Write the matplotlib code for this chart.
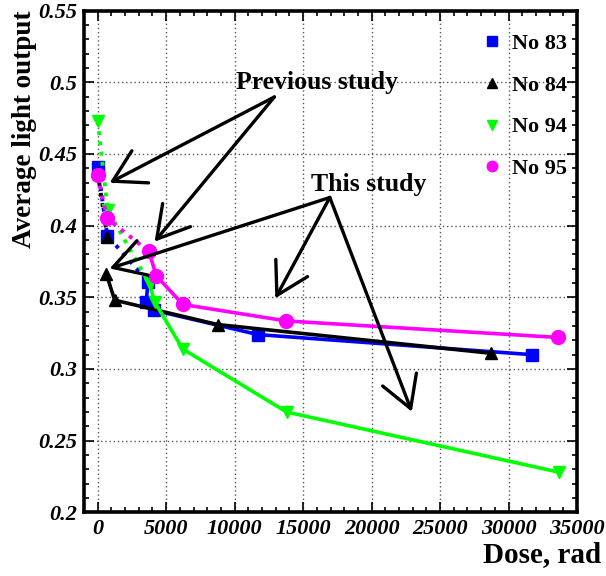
import matplotlib
matplotlib.use('Agg')
import matplotlib.pyplot as plt
from matplotlib.lines import Line2D
from matplotlib.ticker import MultipleLocator, FuncFormatter

plt.rcParams['font.family'] = ['Liberation Serif', 'DejaVu Serif']

# dose (rad) and average light output per sample;
# the points before the split index are the previous study, drawn dotted
dose_83 = [0, 700, 3670, 3550, 4080, 11700, 31700]
light_83 = [0.441, 0.393, 0.361, 0.347, 0.341, 0.324, 0.310]
dose_84 = [0, 700, 640, 1240, 8750, 28700]
light_84 = [0.437, 0.392, 0.366, 0.348, 0.331, 0.311]
dose_94 = [0, 730, 3790, 4150, 6200, 13800, 33700]
light_94 = [0.473, 0.411, 0.359, 0.347, 0.314, 0.270, 0.228]
dose_95 = [0, 680, 3740, 4280, 6220, 13780, 33620]
light_95 = [0.435, 0.405, 0.382, 0.365, 0.345, 0.3335, 0.322]

labels = ['No 83', 'No 84', 'No 94', 'No 95']
dotted_end = [2, 1, 2, 2]
solid_start = [2, 2, 2, 2]

series = [
    (dose_83, light_83, 'blue', 's', 9, 3),
    (dose_84, light_84, 'black', '^', 9, 4),
    (dose_94, light_94, '#00ff00', 'v', 9, 5),
    (dose_95, light_95, 'magenta', 'o', 10, 6),
]

fig = plt.figure(figsize=(6.06, 5.76), dpi=100)
ax = fig.add_axes([84/606, 1 - 512.4/576, (577 - 84)/606, (512.4 - 10.5)/576])

handles = []
for (x, y, c, m, ms, z), lab, d, s in zip(series, labels, dotted_end, solid_start):
    ax.plot(x[:d+1], y[:d+1], color=c, ls=':', lw=2.8, zorder=z)
    ax.plot(x[s:], y[s:], color=c, ls='-', lw=2.6, zorder=z)
    ax.plot(x, y, ls='none', marker=m, ms=ms, color=c, mec=c, zorder=z + 0.5)
    handles.append(Line2D([], [], ls='none', marker=m, ms=ms * 0.75, color=c, label=lab))

ax.set_xlim(-1000, 35000)
ax.set_ylim(0.2, 0.55)
ax.xaxis.set_major_locator(MultipleLocator(5000))
ax.xaxis.set_minor_locator(MultipleLocator(1000))
ax.yaxis.set_major_locator(MultipleLocator(0.05))
ax.yaxis.set_minor_locator(MultipleLocator(0.01))
ax.yaxis.set_major_formatter(FuncFormatter(lambda v, p: f'{v:g}'))
ax.tick_params(which='both', direction='in', top=True, right=True, width=1.2)
ax.tick_params(which='major', length=7)
ax.tick_params(which='minor', length=3.5)
ax.tick_params(axis='x', pad=5)
ax.tick_params(axis='y', pad=5)
for t in ax.get_xticklabels() + ax.get_yticklabels():
    t.set_fontsize(16)
    t.set_fontweight('bold')
    t.set_fontstyle('italic')
ax.grid(True, which='major', color='#555555', ls=(0, (1, 2)), lw=1.0)
for sp in ax.spines.values():
    sp.set_linewidth(2.6)

ax.legend(handles=handles, loc='upper right', bbox_to_anchor=(1.012, 0.985), frameon=False,
          prop=dict(size=16, weight='bold'), handlelength=0.8, handletextpad=0.5,
          labelspacing=0.95, borderaxespad=0.3)

# annotation arrows
arrow_kw = dict(arrowstyle='->,head_length=2.24,head_width=1.3', mutation_scale=10,
                color='black', lw=2.4, shrinkA=0, shrinkB=0)
prev_from = (12900, 0.4897)
this_from = (16950, 0.4196)
for tip in [(875, 0.4299), (4155, 0.3888)]:
    ax.annotate('', xy=tip, xytext=prev_from, arrowprops=arrow_kw, zorder=10)
for tip in [(875, 0.3701), (12970, 0.3493), (22940, 0.2702)]:
    ax.annotate('', xy=tip, xytext=this_from, arrowprops=arrow_kw, zorder=10)
ax.text(10100, 0.5, 'Previous study', fontsize=18.5, fontweight='bold', va='center')
ax.text(15600, 0.4288, 'This study', fontsize=18.5, fontweight='bold', va='center')

fig.text(25/606, 1 - 10/576, 'Average light output', rotation=90, fontsize=19.5,
         fontweight='bold', ha='center', va='top')
fig.text(601/606, 1 - 555/576, 'Dose, rad', fontsize=21, fontweight='bold',
         ha='right', va='center')

fig.savefig('out.png', dpi=100)
